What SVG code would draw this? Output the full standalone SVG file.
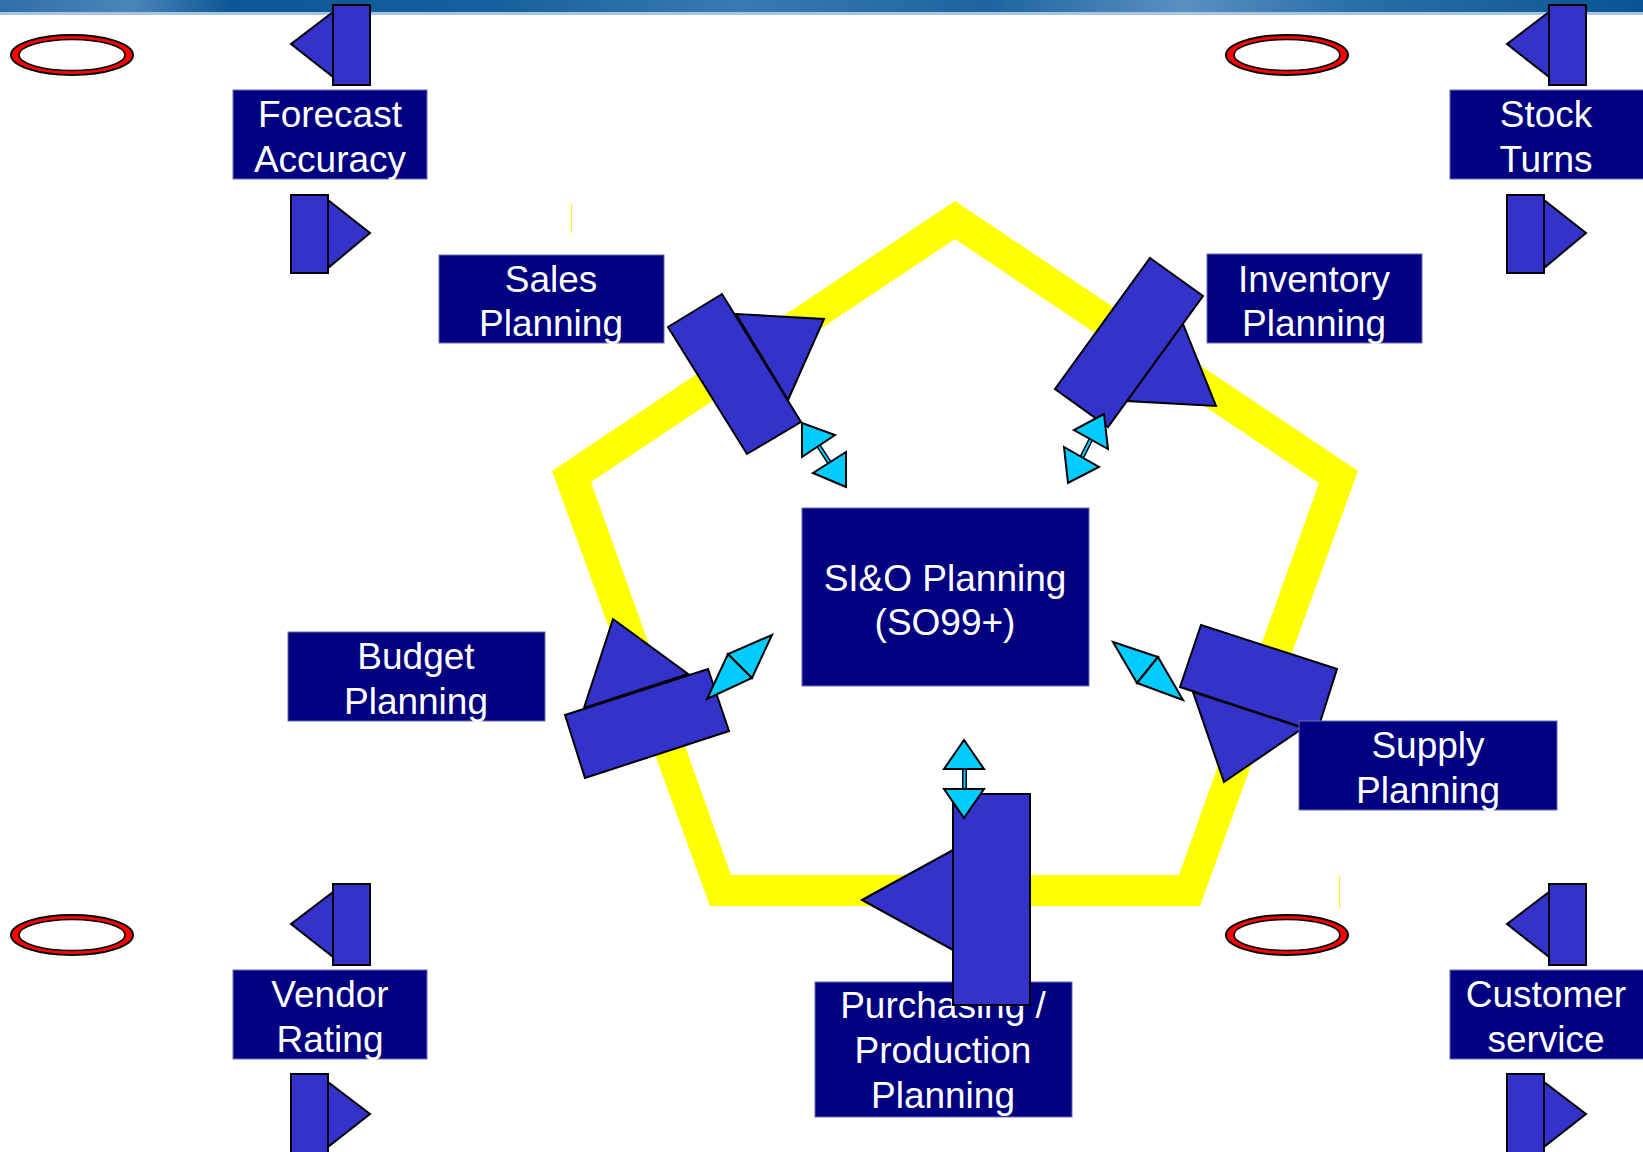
<svg xmlns="http://www.w3.org/2000/svg" width="1643" height="1152" viewBox="0 0 1643 1152">
<defs>
<linearGradient id="banner" x1="0" y1="0" x2="1" y2="0">
<stop offset="0" stop-color="#2f6ea8"/>
<stop offset="0.08" stop-color="#4a86b8"/>
<stop offset="0.14" stop-color="#0d5796"/>
<stop offset="0.3" stop-color="#15609e"/>
<stop offset="0.45" stop-color="#3a7ab2"/>
<stop offset="0.6" stop-color="#1c64a0"/>
<stop offset="0.72" stop-color="#5a90c0"/>
<stop offset="0.82" stop-color="#2a70aa"/>
<stop offset="1" stop-color="#0a5494"/>
</linearGradient>
</defs>
<style>
.box{fill:#000080;stroke:#6a6ab8;stroke-width:1}
.lbl{font-family:"Liberation Sans",Arial,sans-serif;font-size:37px;fill:#ffffff;text-anchor:middle}
.blk{fill:#3333cc;stroke:#000;stroke-width:2;stroke-linejoin:miter}
.cy{fill:#00ccff;stroke:#000;stroke-width:2;stroke-linejoin:miter}
.ring{fill:#ff0000;stroke:#000;stroke-width:2}
.hole{fill:#fff;stroke:#000;stroke-width:1.5}
</style>
<rect width="1643" height="1152" fill="#fff"/>
<rect x="0" y="0" width="1643" height="12" fill="url(#banner)"/>
<rect x="0" y="12" width="1643" height="3" fill="#a8c4e0"/>

<path id="pentagon" fill="#ffff00" fill-rule="evenodd" d="M955,201 L1358,471 L1200,906 L710,906 L552,471 Z M955,239 L591,482 L731,875 L1179,875 L1319,483 Z"/>
<rect x="571" y="204" width="1" height="29" fill="#ffff00"/>
<rect x="1339" y="876" width="1" height="32" fill="#ffff00"/>

<g id="ellipses">
<g id="ell-tl"><ellipse class="ring" cx="72" cy="55" rx="61" ry="20"/><ellipse class="hole" cx="72" cy="55" rx="53" ry="15.5"/></g>
<g id="ell-tr"><ellipse class="ring" cx="1287" cy="55" rx="61" ry="20"/><ellipse class="hole" cx="1287" cy="55" rx="53" ry="15.5"/></g>
<g id="ell-bl"><ellipse class="ring" cx="72" cy="935" rx="61" ry="20"/><ellipse class="hole" cx="72" cy="935" rx="53" ry="15.5"/></g>
<g id="ell-br"><ellipse class="ring" cx="1287" cy="935" rx="61" ry="20"/><ellipse class="hole" cx="1287" cy="935" rx="53" ry="15.5"/></g>
</g>

<g id="forecast-accuracy">
<polygon class="blk" points="333,12 291,44 333,77"/>
<rect class="blk" x="333" y="5" width="37" height="80"/>
<rect class="box" x="233" y="90" width="194" height="89"/>
<text class="lbl" x="330" y="127">Forecast</text>
<text class="lbl" x="330" y="172">Accuracy</text>
<polygon class="blk" points="328,200 370,233 328,268"/>
<rect class="blk" x="291" y="195" width="37" height="78"/>
</g>

<g id="stock-turns">
<polygon class="blk" points="1549,12 1507,44 1549,77"/>
<rect class="blk" x="1549" y="5" width="37" height="80"/>
<rect class="box" x="1450" y="90" width="194" height="89"/>
<text class="lbl" x="1546" y="127">Stock</text>
<text class="lbl" x="1546" y="172">Turns</text>
<polygon class="blk" points="1544,200 1586,233 1544,268"/>
<rect class="blk" x="1507" y="195" width="37" height="78"/>
</g>

<g id="vendor-rating">
<polygon class="blk" points="333,892 291,924 333,957"/>
<rect class="blk" x="333" y="884" width="37" height="81"/>
<rect class="box" x="233" y="970" width="194" height="89"/>
<text class="lbl" x="330" y="1007">Vendor</text>
<text class="lbl" x="330" y="1052">Rating</text>
<polygon class="blk" points="328,1082 370,1114 328,1147"/>
<rect class="blk" x="291" y="1074" width="37" height="90"/>
</g>

<g id="customer-service">
<polygon class="blk" points="1549,892 1507,924 1549,957"/>
<rect class="blk" x="1549" y="884" width="37" height="81"/>
<rect class="box" x="1450" y="970" width="194" height="89"/>
<text class="lbl" x="1546" y="1007">Customer</text>
<text class="lbl" x="1546" y="1052">service</text>
<polygon class="blk" points="1544,1082 1586,1114 1544,1147"/>
<rect class="blk" x="1507" y="1074" width="37" height="90"/>
</g>

<g id="sio-planning">
<rect class="box" x="802" y="508" width="287" height="178"/>
<text class="lbl" x="945" y="591">SI&amp;O Planning</text>
<text class="lbl" x="945" y="635">(SO99+)</text>
</g>

<g id="sales-planning">
<rect class="box" x="439" y="255" width="225" height="88"/>
<text class="lbl" x="551" y="292">Sales</text>
<text class="lbl" x="551" y="336">Planning</text>
<polygon class="blk" points="736,314 824,319 788,400"/>
<polygon class="blk" points="668,327 722,294 801,422 747,454"/>
</g>

<g id="inventory-planning">
<rect class="box" x="1207" y="254" width="215" height="89"/>
<text class="lbl" x="1314" y="292">Inventory</text>
<text class="lbl" x="1314" y="336">Planning</text>
<polygon class="blk" points="1183,324 1127,401 1216,406"/>
<polygon class="blk" points="1150,258 1203,296 1108,427 1055,389"/>
</g>

<g id="budget-planning">
<rect class="box" x="288" y="632" width="257" height="89"/>
<text class="lbl" x="416" y="669">Budget</text>
<text class="lbl" x="416" y="714">Planning</text>
<polygon class="blk" points="613,619 584,708 688,674"/>
<polygon class="blk" points="565,715 708,669 729,731 585,778"/>
</g>

<g id="supply-planning">
<polygon class="blk" points="1193,692 1303,728 1224,782"/>
<polygon class="blk" points="1201,625 1337,669 1317,732 1180,687"/>
<rect class="box" x="1299" y="721" width="258" height="89"/>
<text class="lbl" x="1428" y="758">Supply</text>
<text class="lbl" x="1428" y="803">Planning</text>
</g>

<g id="purchasing-production-planning">
<rect class="box" x="815" y="982" width="257" height="135"/>
<text class="lbl" x="943" y="1018">Purchasing /</text>
<text class="lbl" x="943" y="1063">Production</text>
<text class="lbl" x="943" y="1108">Planning</text>
<polygon class="blk" points="862,900 953,850 953,950"/>
<rect class="blk" x="953" y="794" width="77" height="211"/>
</g>

<g id="connectors">
<g id="c-sales">
<line x1="818" y1="445" x2="831" y2="465" stroke="#000" stroke-width="5"/>
<line x1="818" y1="445" x2="831" y2="465" stroke="#00ccff" stroke-width="2"/>
<polygon class="cy" points="802,423 835,435 802,457"/>
<polygon class="cy" points="846,487 813,473 846,452"/>
</g>
<g id="c-inventory">
<line x1="1092" y1="437" x2="1081" y2="459" stroke="#000" stroke-width="5"/>
<line x1="1092" y1="437" x2="1081" y2="459" stroke="#00ccff" stroke-width="2"/>
<polygon class="cy" points="1104,414 1074,430 1108,449"/>
<polygon class="cy" points="1068,483 1064,447 1099,467"/>
</g>
<g id="c-budget">
<polygon class="cy" points="707,699 728,654 752,678"/>
<polygon class="cy" points="772,635 728,654 752,678"/>
</g>
<g id="c-supply">
<polygon class="cy" points="1113,642 1158,657 1137,683"/>
<polygon class="cy" points="1183,700 1158,657 1137,683"/>
</g>
<g id="c-purchasing">
<rect x="962" y="768" width="5" height="22" fill="#000"/>
<rect x="963.5" y="768" width="2" height="22" fill="#00ccff"/>
<polygon class="cy" points="964,740 944,769 984,769"/>
<polygon class="cy" points="964,818 944,789 984,789"/>
</g>
</g>
</svg>
